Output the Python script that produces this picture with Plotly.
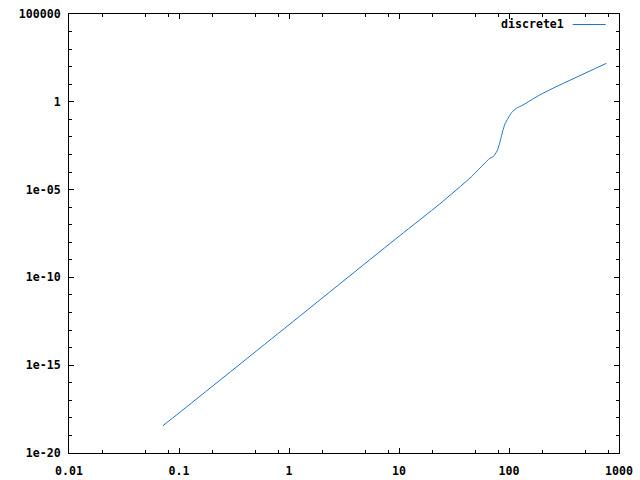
import plotly.graph_objects as go

# data
x_vals = [0.0711, 0.1, 1.0, 10.0, 23.4, 45.5, 66.8, 71.6, 78.0, 82.2, 85.0, 87.7, 92.0, 98.0, 106.0, 116.7, 134.0, 190.0, 251.0, 767.0]
y_vals = [3.5e-19, 1.9e-18, 2.0e-13, 2.2e-8, 1.5e-6, 5.4e-5, 6.0e-4, 7.4e-4, 1.6e-3, 4.4e-3, 0.010, 0.022, 0.055, 0.115, 0.25, 0.43, 0.66, 2.45, 5.9, 155.0]
series_name = "discrete1"

x_tick_vals = [0.01, 0.1, 1, 10, 100, 1000]
x_tick_text = ["0.01", "0.1", "1", "10", "100", "1000"]
y_tick_vals = [1e-20, 1e-15, 1e-10, 1e-5, 1, 1e5]
y_tick_text = ["1e-20", "1e-15", "1e-10", "1e-05", "1", "100000"]

x_minor = [m * d for d in [0.01, 0.1, 1, 10, 100] for m in (2, 5, 8)]
y_minor = [10.0 ** e for e in range(-20, 6)]

line_color = "#1f74cc"
font = dict(family="DejaVu Sans Mono", size=11.6, color="black", weight="bold")

fig = go.Figure()
fig.add_trace(go.Scatter(x=x_vals, y=y_vals, mode="lines", name=series_name,
                         line=dict(color=line_color, width=1, shape="spline", smoothing=0.6),
                         showlegend=False))

axis_common = dict(type="log", showgrid=False, zeroline=False, showline=True,
                   linecolor="black", linewidth=1, mirror="allticks", automargin=False,
                   ticks="inside", ticklen=5, tickwidth=1, tickcolor="black",
                   tickmode="array", tickfont=font)

fig.update_xaxes(**axis_common, range=[-2, 3], tickvals=x_tick_vals, ticktext=x_tick_text,
                 ticklabelstandoff=7,
                 minor=dict(tickmode="array", tickvals=x_minor, ticks="inside", ticklen=3,
                            tickcolor="black", tickwidth=1, showgrid=False))
fig.update_yaxes(**axis_common, range=[-20, 5], tickvals=y_tick_vals, ticktext=y_tick_text,
                 ticklabelstandoff=5,
                 minor=dict(tickmode="array", tickvals=y_minor, ticks="inside", ticklen=3,
                            tickcolor="black", tickwidth=1, showgrid=False))

# gnuplot-style key: text then line sample
fig.add_annotation(x=(566 - 69.3) / 550, y=(453 - 24) / 439.5, xref="paper", yref="paper",
                   text=series_name, showarrow=False, xanchor="right", yanchor="middle",
                   font=font)
fig.add_shape(type="line", xref="paper", yref="paper",
              x0=(573 - 69.3) / 550, x1=(606 - 69.3) / 550,
              y0=(453 - 24) / 439.5, y1=(453 - 24) / 439.5,
              line=dict(color=line_color, width=1))

fig.update_layout(width=640, height=480, paper_bgcolor="white", plot_bgcolor="white",
                  margin=dict(l=69, r=21, t=14, b=27, autoexpand=False), showlegend=False)

fig.write_html("out.html", config={"displayModeBar": False},
               post_script="document.body.style.margin='0';document.body.style.overflow='hidden';")
